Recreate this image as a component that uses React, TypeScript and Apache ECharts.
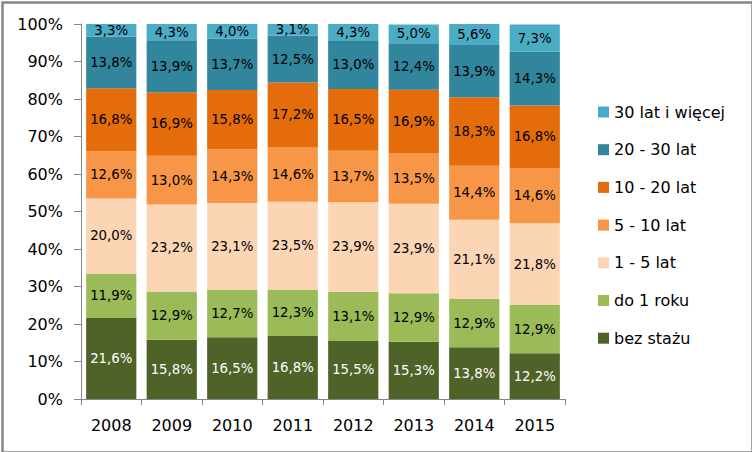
import React, { useEffect, useRef } from "react";
import * as echarts from "echarts";

const years = ["2008", "2009", "2010", "2011", "2012", "2013", "2014", "2015"];
const bezStazu = [21.6, 15.8, 16.5, 16.8, 15.5, 15.3, 13.8, 12.2];
const do1Roku = [11.9, 12.9, 12.7, 12.3, 13.1, 12.9, 12.9, 12.9];
const lat1to5 = [20.0, 23.2, 23.1, 23.5, 23.9, 23.9, 21.1, 21.8];
const lat5to10 = [12.6, 13.0, 14.3, 14.6, 13.7, 13.5, 14.4, 14.6];
const lat10to20 = [16.8, 16.9, 15.8, 17.2, 16.5, 16.9, 18.3, 16.8];
const lat20to30 = [13.8, 13.9, 13.7, 12.5, 13.0, 12.4, 13.9, 14.3];
const lat30plus = [3.3, 4.3, 4.0, 3.1, 4.3, 5.0, 5.6, 7.3];

const seriesDefs = [
  { name: "bez stażu", data: bezStazu, color: "#4F6228", label: "#FFFFFF" },
  { name: "do 1 roku", data: do1Roku, color: "#9BBB59", label: "#000000" },
  { name: "1 - 5 lat", data: lat1to5, color: "#FCD5B5", label: "#000000" },
  { name: "5 - 10 lat", data: lat5to10, color: "#F79646", label: "#000000" },
  { name: "10 - 20 lat", data: lat10to20, color: "#E46C0A", label: "#000000" },
  { name: "20 - 30 lat", data: lat20to30, color: "#31859C", label: "#000000" },
  { name: "30 lat i więcej", data: lat30plus, color: "#4BACC6", label: "#000000" },
];

const FONT = "'DejaVu Sans', sans-serif";

export default function App() {
  const ref = useRef<HTMLDivElement>(null);
  useEffect(() => {
    if (!ref.current) return;
    const chart = echarts.init(ref.current, null, { renderer: "svg" });
    chart.setOption({
      animation: false,
      backgroundColor: "#FFFFFF",
      textStyle: { fontFamily: FONT },
      graphic: [
        {
          type: "rect",
          left: 0,
          top: 0,
          shape: { x: 1, y: 1, width: 750, height: 450 },
          style: { fill: "none", stroke: "#868686", lineWidth: 2.5 },
          silent: true,
        },
      ],
      grid: { left: 81, right: 187, top: 24, bottom: 53 },
      legend: {
        orient: "vertical",
        left: 593,
        top: 99,
        icon: "rect",
        itemWidth: 11,
        itemHeight: 11,
        itemGap: 21.7,
        data: seriesDefs.map((s) => s.name).reverse(),
        textStyle: { fontFamily: FONT, fontSize: 16, color: "#000000", lineHeight: 16 },
      },
      xAxis: {
        type: "category",
        data: years,
        axisLine: { lineStyle: { color: "#868686", width: 1 } },
        axisTick: { show: true, length: 6, lineStyle: { color: "#868686" } },
        axisLabel: { fontFamily: FONT, fontSize: 16, color: "#000000", margin: 18 },
      },
      yAxis: {
        type: "value",
        min: 0,
        max: 100,
        interval: 10,
        splitLine: { show: false },
        axisLine: { show: true, lineStyle: { color: "#868686", width: 1 } },
        axisTick: { show: true, length: 7, lineStyle: { color: "#868686" } },
        axisLabel: {
          fontFamily: FONT,
          fontSize: 16,
          color: "#000000",
          margin: 18,
          formatter: (v: number) => v + "%",
        },
      },
      series: seriesDefs.map((s) => ({
        name: s.name,
        type: "bar",
        stack: "total",
        data: s.data,
        barCategoryGap: "17%",
        itemStyle: { color: s.color },
        label: {
          show: true,
          position: "inside",
          fontFamily: FONT,
          fontSize: 13.3,
          color: s.label,
          formatter: (p: any) => p.value.toFixed(1).replace(".", ",") + "%",
        },
      })),
    });
    return () => chart.dispose();
  }, []);
  return (
    <div
      ref={ref}
      style={{ position: "fixed", left: 0, top: 0, width: 752, height: 452 }}
    />
  );
}
